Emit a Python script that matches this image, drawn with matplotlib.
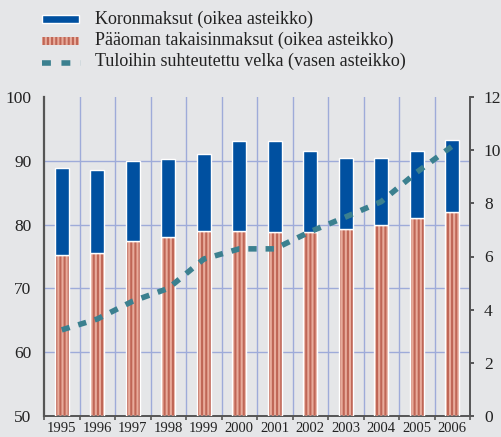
import matplotlib
matplotlib.use("Agg")
import matplotlib.pyplot as plt
from matplotlib.patches import Rectangle
from matplotlib.lines import Line2D

years = ["1995", "1996", "1997", "1998", "1999", "2000", "2001", "2002", "2003", "2004", "2005", "2006"]
# right axis (0-12)
paaoma = [6.07, 6.12, 6.60, 6.74, 6.96, 6.96, 6.94, 6.94, 7.03, 7.18, 7.44, 7.66]
korko = [3.27, 3.14, 2.98, 2.91, 2.88, 3.38, 3.40, 3.04, 2.67, 2.54, 2.52, 2.73]
# left axis (50-100)
velka = [63.5, 65.2, 68.0, 70.0, 74.6, 76.2, 76.2, 78.9, 81.2, 83.6, 88.2, 92.3]

labels = ["Koronmaksut (oikea asteikko)",
          "Pääoman takaisinmaksut (oikea asteikko)",
          "Tuloihin suhteutettu velka (vasen asteikko)"]

BG = "#e5e6e8"
BLUE = "#0050a0"
RED_FACE = "#e8ab9b"
RED_HATCH = "#bf6656"
TEAL = "#3b808f"
GRID = "#9eabd9"
DARK = "#555555"

plt.rcParams["font.family"] = ["Liberation Serif", "DejaVu Serif"]
plt.rcParams["hatch.linewidth"] = 1.5

fig = plt.figure(figsize=(5.01, 4.37), dpi=100, facecolor=BG)
W, H = 501, 437
l, r, t, b = 44, 470, 97, 416
ax2 = fig.add_axes([l / W, 1 - b / H, (r - l) / W, (b - t) / H])
ax = ax2.twinx()
ax2.set_facecolor(BG)
ax.patch.set_visible(False)

x = list(range(len(years)))
ax2.set_xlim(-0.5, len(years) - 0.5)
ax2.set_ylim(0, 12)
ax.set_ylim(50, 100)

# grid
for v in [60, 70, 80, 90]:
    ax2.axhline((v - 50) * 12 / 50, color=GRID, lw=1.0, zorder=0)
for i in range(len(years) - 1):
    ax2.axvline(i + 0.5, color=GRID, lw=1.0, zorder=0)

bw = 0.4
ax2.bar(x, paaoma, width=bw, color=RED_FACE, edgecolor="none", zorder=2)
ax2.bar(x, paaoma, width=bw, color="none", edgecolor=RED_HATCH, hatch="||||", lw=0, zorder=3)
ax2.bar(x, paaoma, width=bw, color="none", edgecolor="white", lw=1.0, zorder=4)
ax2.bar(x, korko, bottom=paaoma, width=bw, color=BLUE, edgecolor="white", lw=1.0, zorder=4)

ax.plot(x, velka, color=TEAL, lw=4, dashes=(1.5, 1.6), zorder=5)

# axes styling
ax.spines["top"].set_visible(False)
ax2.spines["top"].set_visible(False)
ax.spines["left"].set_visible(False)
ax.spines["bottom"].set_visible(False)
ax.spines["right"].set_visible(False)
ax2.spines["left"].set_color(DARK)
ax2.spines["left"].set_linewidth(1.6)
ax2.spines["bottom"].set_color(DARK)
ax2.spines["bottom"].set_linewidth(1.4)
ax2.spines["right"].set_color(DARK)
ax2.spines["right"].set_linewidth(1.4)

ax.set_yticks([50, 60, 70, 80, 90, 100])
ax2.set_yticks([0, 2, 4, 6, 8, 10, 12])

ax.tick_params(axis="y", which="both", left=True, labelleft=True, right=False, labelright=False,
               length=0, pad=9, labelsize=12.5, colors="#222222")
ax2.tick_params(axis="y", left=False, labelleft=False, right=True, labelright=True,
                direction="out", length=3, width=1.4, color=DARK, pad=7, labelsize=12.5,
                labelcolor="#222222")
ax2.set_xticks(x)
ax2.set_xticklabels(years)
ax2.set_xticks([i + 0.5 for i in range(-1, len(years))], minor=True)
ax2.tick_params(axis="x", which="major", length=0, pad=4, labelsize=10.5, labelcolor="#222222")
ax2.tick_params(axis="x", which="minor", length=3, width=1.2, direction="out", color=DARK)
ax.tick_params(axis="x", bottom=False, labelbottom=False)

# legend (figure pixel coords)
def fy(py):
    return 1 - py / H

fig.patches.append(Rectangle((42 / W, fy(23)), 37 / W, 8 / H, transform=fig.transFigure,
                             facecolor=BLUE, edgecolor="white", lw=1.0))
fig.patches.append(Rectangle((42 / W, fy(45)), 37 / W, 8 / H, transform=fig.transFigure,
                             facecolor=RED_FACE, edgecolor="none"))
fig.patches.append(Rectangle((42 / W, fy(45)), 37 / W, 8 / H, transform=fig.transFigure,
                             facecolor="none", edgecolor=RED_HATCH, hatch="||||", lw=0))
fig.lines.append(Line2D([42 / W, 81 / W], [fy(63), fy(63)], transform=fig.transFigure,
                        color=TEAL, lw=4, dashes=(1.6, 1.9)))
for yy, lab in zip([19, 40, 61], labels):
    fig.text(95 / W, fy(yy), lab, ha="left", va="center", fontsize=13, color="#222222")

fig.savefig("out.png", dpi=100, facecolor=BG)
